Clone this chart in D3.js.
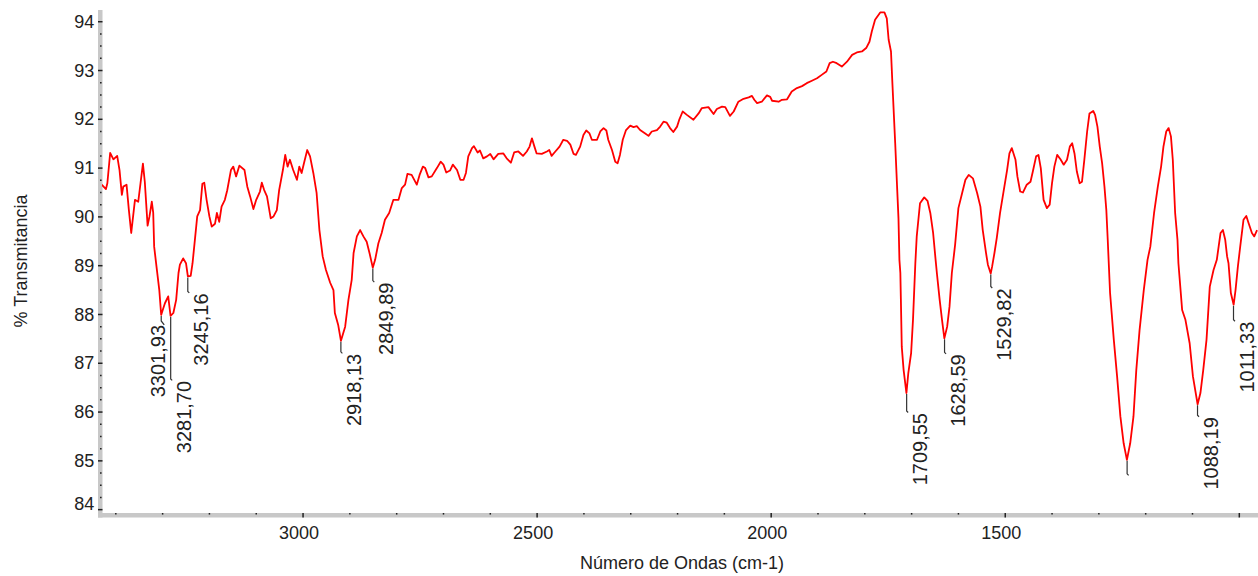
<!DOCTYPE html>
<html><head><meta charset="utf-8">
<script src="https://cdn.jsdelivr.net/npm/d3@7"></script>
<style>
html,body{margin:0;padding:0;background:#fff;}
svg{display:block;font-family:"Liberation Sans",Arial,sans-serif;}
</style></head><body>
<svg id="chart" width="1258" height="576"></svg>
<script>
// ---------------- DATA ----------------
const wavenumbers = [
3429,3420,3417,3411,3404,3396,3391,3386,3383,3376,3371,3366,3362,3358,3351,3341,3337,3331,3327,3322,
3319,3317,3312,3306,3302,3298,3294,3287,3282,3276,3270,3265,3262,3255,3249,3245,3239,3235,3230,3225,
3219,3214,3210,3205,3199,3194,3187,3183,3178,3173,3166,3161,3153,3148,3142,3135,3124,3118,3112,3105,
3099,3091,3087,3082,3076,3068,3062,3055,3050,3042,3037,3032,3027,3020,3012,3007,3002,2997,2990,2984,
2977,2970,2964,2957,2950,2941,2934,2931,2924,2918,2909,2902,2895,2891,2884,2877,2870,2863,2857,2850,
2845,2838,2831,2824,2815,2806,2795,2788,2781,2776,2767,2756,2750,2743,2738,2731,2724,2713,2705,2699,
2693,2685,2679,2670,2663,2656,2651,2646,2638,2634,2626,2621,2614,2606,2599,2592,2582,2571,2564,2555,
2548,2539,2529,2521,2515,2510,2505,2500,2489,2478,2473,2468,2460,2451,2443,2435,2428,2421,2416,2407,
2400,2394,2387,2382,2371,2364,2357,2351,2347,2339,2332,2327,2322,2316,2309,2300,2293,2286,2279,2268,
2261,2254,2243,2236,2229,2222,2215,2208,2200,2195,2188,2179,2165,2154,2147,2133,2122,2115,2104,2097,
2087,2079,2069,2058,2047,2040,2035,2029,2019,2008,2001,1997,1983,1976,1965,1955,1944,1933,1923,1912,
1901,1891,1881,1874,1867,1859,1848,1837,1826,1816,1805,1796,1789,1784,1777,1766,1757,1752,1748,1743,
1740,1734,1730,1727,1725,1723,1722,1720,1716,1710,1706,1700,1696,1691,1688,1681,1672,1665,1659,1653,
1648,1645,1639,1634,1629,1623,1618,1613,1606,1599,1591,1584,1577,1568,1559,1552,1547,1540,1536,1530,
1527,1522,1517,1510,1503,1495,1490,1485,1477,1473,1467,1461,1453,1445,1440,1433,1428,1423,1417,1410,
1404,1399,1394,1388,1381,1374,1367,1361,1356,1351,1346,1340,1335,1330,1324,1319,1311,1307,1302,1297,
1292,1287,1283,1280,1275,1267,1260,1253,1246,1239,1232,1225,1219,1212,1203,1195,1189,1181,1173,1166,
1161,1155,1150,1145,1141,1136,1131,1129,1121,1114,1105,1098,1088,1082,1076,1069,1062,1054,1047,1039,
1034,1029,1025,1022,1017,1011,1007,1002,997,990,984,979,972,967,961
];
const transmittance = [
90.65,90.56,90.68,91.30,91.17,91.24,90.95,90.44,90.61,90.65,90.13,89.66,90.00,90.34,90.30,91.08,90.71,89.81,90.00,90.30,
90.07,89.38,88.97,88.49,87.98,88.10,88.22,88.36,87.96,88.02,88.29,88.84,89.01,89.14,89.04,88.77,88.78,89.04,89.52,90.00,
90.13,90.67,90.69,90.34,90.00,89.79,89.85,90.07,89.89,90.20,90.34,90.53,90.95,91.02,90.82,91.04,90.95,90.61,90.41,90.15,
90.34,90.51,90.69,90.54,90.41,89.96,90.00,90.13,90.54,90.95,91.26,91.02,91.16,90.95,90.75,91.02,90.89,91.09,91.36,91.23,
90.89,90.48,89.72,89.18,88.90,88.64,88.49,88.02,87.78,87.45,87.74,88.29,88.70,89.25,89.59,89.72,89.59,89.48,89.25,88.95,
89.11,89.45,89.66,89.93,90.07,90.34,90.34,90.58,90.65,90.87,90.85,90.65,90.85,91.02,90.99,90.80,90.82,90.99,91.12,91.06,
90.90,90.94,91.06,90.95,90.75,90.75,90.89,91.23,91.40,91.44,91.31,91.35,91.19,91.23,91.28,91.17,91.28,91.29,91.19,91.10,
91.31,91.33,91.24,91.33,91.43,91.60,91.44,91.29,91.28,91.33,91.36,91.24,91.33,91.43,91.57,91.55,91.47,91.28,91.26,91.43,
91.67,91.76,91.70,91.57,91.57,91.74,91.81,91.76,91.57,91.36,91.12,91.09,91.26,91.57,91.77,91.86,91.83,91.85,91.77,91.70,
91.65,91.74,91.77,91.84,91.94,91.92,91.81,91.73,91.84,91.99,92.15,92.08,91.98,92.11,92.22,92.24,92.10,92.20,92.25,92.24,
92.06,92.15,92.35,92.41,92.44,92.47,92.39,92.32,92.35,92.48,92.45,92.37,92.35,92.39,92.40,92.56,92.63,92.67,92.73,92.78,
92.83,92.90,92.97,93.14,93.17,93.14,93.07,93.17,93.31,93.36,93.38,93.45,93.58,93.79,94.03,94.18,94.18,94.06,93.62,93.38,
92.73,91.50,90.61,89.96,89.11,88.84,88.36,87.33,86.85,86.38,86.79,87.20,87.88,89.04,89.59,90.27,90.39,90.32,90.07,89.66,
89.14,88.84,88.29,87.88,87.50,87.74,88.15,88.84,89.42,90.17,90.48,90.75,90.85,90.78,90.48,90.20,89.72,89.25,89.01,88.83,
88.97,89.25,89.56,90.07,90.48,90.95,91.29,91.40,91.16,90.82,90.51,90.49,90.65,90.71,90.92,91.23,91.26,90.99,90.34,90.17,
90.24,90.68,91.02,91.26,91.17,91.06,91.16,91.43,91.50,91.29,90.92,90.68,90.71,91.16,91.74,92.11,92.16,92.08,91.84,91.43,
91.09,90.61,90.13,89.52,88.43,87.47,86.72,85.90,85.35,85.01,85.35,85.90,86.85,87.67,88.49,89.11,89.38,90.07,90.61,91.02,
91.43,91.74,91.81,91.64,91.16,90.07,89.52,89.04,88.08,87.88,87.40,86.72,86.15,86.38,86.85,87.47,88.56,88.90,89.11,89.66,
89.72,89.52,89.18,89.04,88.43,88.19,88.49,88.97,89.38,89.93,90.01,89.86,89.66,89.59,89.72
];
const peakWavenumbers   = [3301.93, 3281.70, 3245.16, 2918.13, 2849.89, 1709.55, 1628.59, 1529.82, 1238.6, 1088.19, 1011.33];
const peakTransmittance = [87.98, 87.96, 88.77, 87.45, 88.95, 86.38, 87.50, 88.83, 85.01, 86.15, 88.19];
const peakLabels        = ["3301,93","3281,70","3245,16","2918,13","2849,89","1709,55","1628,59","1529,82","","1088,19","1011,33"];

const xMajorTicks = [3000, 2500, 2000, 1500, 1000];
const xTickLabels = ["3000", "2500", "2000", "1500", ""];
const yMajorTicks = [84, 85, 86, 87, 88, 89, 90, 91, 92, 93, 94];
const yTickLabels = ["84","85","86","87","88","89","90","91","92","93","94"];
const xAxisTitle = "Número de Ondas (cm-1)";
const yAxisTitle = "% Transmitancia";

// ---------------- LAYOUT ----------------
const plot = {left: 100, right: 1258, top: 10, bottom: 515};
const leaderLength = [5, 62, 14, 10, 12, 17, 13, 12, 13, 10, 14];
const labelShift   = [-16, 0, 0, 0, 0, 0, 0, 0, 0, 0, 0];

const svg = d3.select("#chart");
const x = d3.scaleLinear().domain([3432.7, 959]).range([plot.left, plot.right]);
const y = d3.scaleLinear().domain([83.88, 94.23]).range([plot.bottom, plot.top]);

svg.append("defs").append("clipPath").attr("id", "clip")
  .append("rect").attr("x", plot.left + 2).attr("y", 0)
  .attr("width", plot.right - plot.left).attr("height", plot.bottom - 2);

// axis bands
const band = "#c8c8c8";
svg.append("rect").attr("x", 98).attr("y", plot.top).attr("width", 4.5).attr("height", plot.bottom + 2.5 - plot.top).attr("fill", band);
svg.append("rect").attr("x", 98).attr("y", 513).attr("width", plot.right - 98).attr("height", 4.5).attr("fill", band);

const textColor = "#222";

// Y axis
const yAxis = svg.append("g").attr("transform", "translate(98,0)")
  .call(d3.axisLeft(y).tickValues(yMajorTicks).tickSize(-4.5).tickPadding(3.7)
    .tickFormat((d, i) => yTickLabels[i]));
yAxis.select(".domain").remove();
yAxis.selectAll(".tick line").attr("stroke", "#222").attr("stroke-width", 1.5);
yAxis.selectAll(".tick text").attr("fill", textColor).style("font-size", "18px")
  .style("font-family", '"Liberation Sans", Arial, sans-serif')
  .attr("dy", d => d === 84 ? "0em" : "0.34em");

const yMinor = d3.range(84.25, 94.2, 0.25).filter(v => Math.abs(v - Math.round(v)) > 0.01);
const yMin = svg.append("g").attr("transform", "translate(100,0)")
  .call(d3.axisLeft(y).tickValues(yMinor).tickSize(-1.6).tickFormat(""));
yMin.select(".domain").remove();
yMin.selectAll(".tick line").attr("stroke", "#222").attr("stroke-width", 1.5);

// X axis
const xAxis = svg.append("g").attr("transform", "translate(0,513)")
  .call(d3.axisBottom(x).tickValues(xMajorTicks).tickSize(4.5).tickPadding(8.5)
    .tickFormat((d, i) => xTickLabels[i]));
xAxis.select(".domain").remove();
xAxis.selectAll(".tick line").attr("stroke", "#222").attr("stroke-width", 1.5);
xAxis.selectAll(".tick text").attr("fill", textColor).attr("dx", -4).style("font-size", "18px")
  .style("font-family", '"Liberation Sans", Arial, sans-serif');

const xMinor = d3.range(3400, 999, -100).filter(v => v % 500 !== 0);
const xMin = svg.append("g").attr("transform", "translate(0,513)")
  .call(d3.axisBottom(x).tickValues(xMinor).tickSize(1.6).tickFormat(""));
xMin.select(".domain").remove();
xMin.selectAll(".tick line").attr("stroke", "#222").attr("stroke-width", 1.5);

// spectrum
const pts = wavenumbers.map((w, i) => [w, transmittance[i]]);
svg.append("path").datum(pts)
  .attr("clip-path", "url(#clip)")
  .attr("fill", "none").attr("stroke", "#ff0000").attr("stroke-width", 1.8)
  .attr("stroke-linejoin", "round")
  .attr("d", d3.line().x(d => x(d[0])).y(d => y(d[1])));

// peak markers
const peaks = svg.append("g");
peakWavenumbers.forEach((w, i) => {
  const px = x(w), py = y(peakTransmittance[i]);
  const y0 = py + 1, y1 = y0 + leaderLength[i];
  let d;
  if (labelShift[i] !== 0) d = `M${px},${y0}V${y1}L${px + 3},${y1 + 4}`;
  else d = `M${px},${y0}V${y1}l1.5,1.5`;
  peaks.append("path").attr("d", d).attr("fill", "none")
    .attr("stroke", "#333").attr("stroke-width", 1.2);
  if (peakLabels[i]) {
    const ty = labelShift[i] !== 0 ? y1 + 4 : y1 + 2;
    peaks.append("text")
      .attr("transform", `translate(${px + 20 + labelShift[i]},${ty}) rotate(-90)`)
      .attr("text-anchor", "end")
      .attr("fill", textColor)
      .style("font-size", "20px")
      .text(peakLabels[i]);
  }
});

// titles
svg.append("text").attr("x", 682).attr("y", 569).attr("text-anchor", "middle")
  .attr("fill", textColor).style("font-size", "18px").text(xAxisTitle);
svg.append("text").attr("transform", "translate(27,261) rotate(-90)").attr("text-anchor", "middle")
  .attr("fill", textColor).style("font-size", "18px").text(yAxisTitle);
</script>
</body></html>
